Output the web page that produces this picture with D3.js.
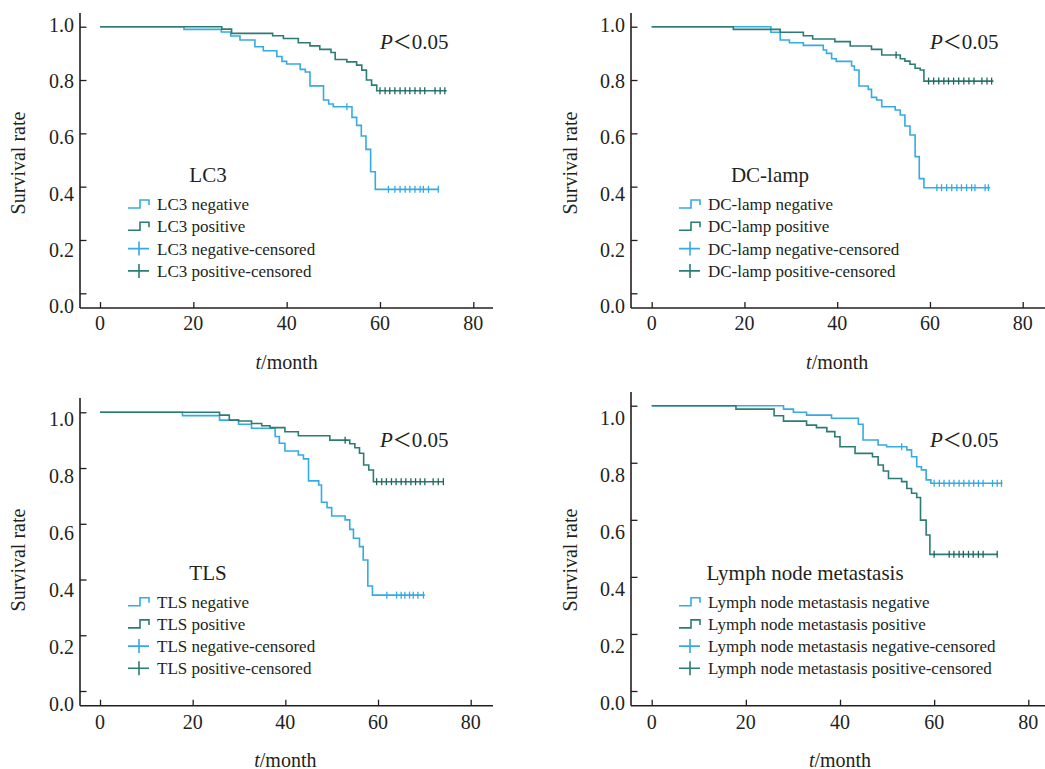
<!DOCTYPE html>
<html>
<head>
<meta charset="utf-8">
<script src="https://cdn.jsdelivr.net/npm/d3@7/dist/d3.min.js"></script>
<style>
  body { margin: 0; background: #fff; }
  svg text { font-family: "Liberation Serif", "DejaVu Serif", serif; fill: #231f20; }
</style>
</head>
<body>
<div id="chart"></div>
<script>
// Tick labels
var yTickValues = [0, 0.2, 0.4, 0.6, 0.8, 1.0];
var yTickLabels = ["0.0", "0.2", "0.4", "0.6", "0.8", "1.0"];
var xTickValues = [0, 20, 40, 60, 80];
var xTickLabels = ["0", "20", "40", "60", "80"];

// Group names of each panel
var panelNames = ["LC3", "DC-lamp", "TLS", "Lymph node metastasis"];

// Kaplan-Meier steps: [month, survival after the drop]
var lc3NegSteps = [[18, 0.99], [26, 0.98], [28, 0.965], [30, 0.95], [33.2, 0.925], [35, 0.91], [37.9, 0.888], [39, 0.87], [40, 0.86], [42.9, 0.84], [44, 0.83], [45, 0.778], [47.9, 0.725], [49, 0.71], [50, 0.70], [54, 0.66], [55, 0.63], [56, 0.59], [57, 0.54], [58, 0.456], [59, 0.39]];
var lc3NegCensor = [52.9, 61.8, 63.2, 64.3, 65.4, 66.4, 67.5, 68.6, 69.3, 70.4, 72.5];
var lc3NegEnd = 72.5;
var lc3PosSteps = [[26.1, 0.991], [28.2, 0.975], [37, 0.966], [39.3, 0.956], [42.5, 0.94], [45, 0.928], [47.1, 0.915], [49.5, 0.903], [50.4, 0.877], [52.9, 0.868], [55, 0.856], [56.1, 0.837], [57.1, 0.80], [58.2, 0.781], [59.3, 0.76]];
var lc3PosCensor = [60, 61.1, 62.1, 63.2, 64.3, 65.4, 66.4, 67.5, 68.6, 69.6, 71.8, 72.9, 73.9];
var lc3PosEnd = 74.3;

var dcNegSteps = [[25.7, 0.979], [27.7, 0.95], [29.7, 0.94], [32.7, 0.93], [37, 0.9125], [37.7, 0.90], [38.8, 0.88], [39.8, 0.87], [43.1, 0.8525], [43.7, 0.8375], [44.7, 0.7775], [46.7, 0.765], [47.4, 0.735], [48.5, 0.725], [49.6, 0.70], [52.5, 0.6875], [53.6, 0.669], [54.6, 0.6275], [55.7, 0.594], [56.8, 0.5125], [57.7, 0.43], [58.7, 0.396]];
var dcNegCensor = [61.5, 62.5, 63.6, 64.7, 65.8, 66.8, 67.9, 69, 69.7, 71.9, 72.6];
var dcNegEnd = 73;
var dcPosSteps = [[17.6, 0.99], [27.7, 0.979], [32.7, 0.966], [34.7, 0.954], [39.5, 0.944], [42.8, 0.9275], [47.4, 0.915], [49.6, 0.894], [53.6, 0.88], [54.6, 0.871], [55.7, 0.859], [56.8, 0.844], [57.9, 0.8375], [58.7, 0.796]];
var dcPosCensor = [52.7, 59.7, 60.8, 61.9, 63, 64, 65.1, 66.2, 67.3, 68.4, 69.5, 71.2, 72.3, 73.3];
var dcPosEnd = 73.7;

var tlsNegSteps = [[17.8, 0.988], [25.8, 0.972], [29.9, 0.957], [32.7, 0.943], [37.8, 0.913], [38.7, 0.889], [39.9, 0.861], [42.8, 0.847], [43.9, 0.833], [45, 0.754], [47.2, 0.739], [47.8, 0.677], [49, 0.658], [50, 0.628], [52.9, 0.614], [53.9, 0.58], [54.7, 0.548], [56, 0.518], [56.8, 0.47], [57.8, 0.377], [58.8, 0.344]];
var tlsNegCensor = [61.9, 64, 65, 65.8, 66.8, 67.6, 68.6, 69.8];
var tlsNegEnd = 70.1;
var tlsPosSteps = [[25.8, 0.99], [27.9, 0.972], [29.9, 0.969], [32.7, 0.96], [34.9, 0.952], [36.7, 0.945], [39.9, 0.93], [42.8, 0.916], [49.6, 0.90], [53.9, 0.887], [55, 0.873], [56, 0.853], [56.9, 0.811], [58, 0.793], [59, 0.751]];
var tlsPosCensor = [52.9, 59.7, 60.8, 61.8, 62.9, 63.9, 65, 66, 67.1, 68.1, 69.1, 70.1, 71.9, 73, 74.1];
var tlsPosEnd = 74.1;

var lnmNegSteps = [[28, 0.988], [30.1, 0.977], [32.9, 0.967], [38.2, 0.956], [43.9, 0.935], [44.9, 0.88], [48.1, 0.862], [49.9, 0.856], [54.2, 0.845], [55.2, 0.821], [56.3, 0.786], [57.3, 0.775], [58.3, 0.74], [59.3, 0.728]];
var lnmNegCensor = [53.1, 60, 61.1, 62.1, 63.2, 64.2, 65.3, 66.3, 67.4, 68.4, 69.4, 70.4, 72.4, 73.4, 74.3];
var lnmNegEnd = 74.5;
var lnmPosSteps = [[17.9, 0.988], [26, 0.965], [28, 0.946], [32.9, 0.932], [35, 0.923], [37.2, 0.909], [38.9, 0.891], [40, 0.856], [43.2, 0.833], [46.9, 0.821], [48.1, 0.792], [49.2, 0.771], [50.3, 0.745], [53.1, 0.734], [54.2, 0.71], [55.2, 0.693], [56.3, 0.678], [57.1, 0.599], [58.3, 0.547], [59.1, 0.479]];
var lnmPosCensor = [60, 63.2, 64.2, 65.3, 66.2, 67.3, 68.3, 69.4, 70.4, 73.4];
var lnmPosEnd = 73.4;

var blue = "#36aae2";
var teal = "#2b7d74";
var tealMark = "#1f6660";
var serif = "'Liberation Serif', 'DejaVu Serif', serif";

// where each panel sits on the page
var layouts = [
  {left: 80, axisY: 308, x0: 100, x80: 473.3, yTop: 26.7, yBot: 293.3, axisTop: 13, axisRight: 493, lab1: 25, lab0: 306, tickLabY: 323, titleY: 362, yTitleX: 18, yTitleY: 163, pX: 380, pY: 42, legX: 128, legTitleX: 208, legTitleY: 175, legRow0: 204, legStep: 22.3},
  {left: 631, axisY: 308, x0: 651.7, x80: 1022.7, yTop: 26.7, yBot: 293.3, axisTop: 13, axisRight: 1045, lab1: 25, lab0: 306, tickLabY: 323, titleY: 362, yTitleX: 570, yTitleY: 163, pX: 930, pY: 42, legX: 679, legTitleX: 770, legTitleY: 175, legRow0: 204, legStep: 22.3},
  {left: 80, axisY: 705.7, x0: 100, x80: 470.7, yTop: 412.3, yBot: 691, axisTop: 398, axisRight: 493, lab1: 419, lab0: 704, tickLabY: 721.7, titleY: 759.5, yTitleX: 18, yTitleY: 560, pX: 380, pY: 440, legX: 128, legTitleX: 208, legTitleY: 573, legRow0: 601.7, legStep: 22.2},
  {left: 631, axisY: 705.7, x0: 651.7, x80: 1028.3, yTop: 405.7, yBot: 691, axisTop: 392, axisRight: 1045, lab1: 418, lab0: 703, tickLabY: 721.7, titleY: 759.5, yTitleX: 570, yTitleY: 560, pX: 930, pY: 440, legX: 679, legTitleX: 805, legTitleY: 573, legRow0: 601.7, legStep: 22.2}
];

// curves for each panel, negative first like the legend
var panelCurves = [
  [{steps: lc3NegSteps, censor: lc3NegCensor, end: lc3NegEnd, color: blue, mark: blue},
   {steps: lc3PosSteps, censor: lc3PosCensor, end: lc3PosEnd, color: teal, mark: tealMark}],
  [{steps: dcNegSteps, censor: dcNegCensor, end: dcNegEnd, color: blue, mark: blue},
   {steps: dcPosSteps, censor: dcPosCensor, end: dcPosEnd, color: teal, mark: tealMark}],
  [{steps: tlsNegSteps, censor: tlsNegCensor, end: tlsNegEnd, color: blue, mark: blue},
   {steps: tlsPosSteps, censor: tlsPosCensor, end: tlsPosEnd, color: teal, mark: tealMark}],
  [{steps: lnmNegSteps, censor: lnmNegCensor, end: lnmNegEnd, color: blue, mark: blue},
   {steps: lnmPosSteps, censor: lnmPosCensor, end: lnmPosEnd, color: teal, mark: tealMark}]
];

var svg = d3.select("#chart")
  .append("svg")
  .attr("width", 1045)
  .attr("height", 769)
  .style("font-family", serif);

// survival value at time t (step function)
function survivalAt(steps, t) {
  var s = 1;
  steps.forEach(function(d) { if (d[0] <= t) s = d[1]; });
  return s;
}

// every label goes through here so the serif font sticks
function addText(sel, size) {
  return sel.append("text")
    .attr("font-family", serif)
    .style("font-family", serif)
    .style("font-size", size + "px");
}

function drawPanel(name, lay, curves) {
  var g = svg.append("g");

  var x = d3.scaleLinear().domain([0, 80]).range([lay.x0, lay.x80]);
  var y = d3.scaleLinear().domain([0, 1]).range([lay.yBot, lay.yTop]);
  // labels in the original sit a touch off the ticks
  var yLab = d3.scaleLinear().domain([0, 1]).range([lay.lab0, lay.lab1]);

  // ticks pointing inward
  g.append("g")
    .attr("transform", `translate(${lay.left},0)`)
    .call(d3.axisLeft(y).tickValues(yTickValues).tickSizeInner(-6.5).tickSizeOuter(0).tickFormat(""));
  g.append("g")
    .attr("transform", `translate(0,${lay.axisY})`)
    .call(d3.axisBottom(x).tickValues(xTickValues).tickSizeInner(-6).tickSizeOuter(0).tickFormat(""));
  g.selectAll(".domain").remove();
  g.selectAll(".tick line").attr("stroke", "#231f20").attr("stroke-width", 1.3);

  // axis lines
  g.append("line")
    .attr("x1", lay.left).attr("x2", lay.left)
    .attr("y1", lay.axisTop).attr("y2", lay.axisY)
    .attr("stroke", "#231f20").attr("stroke-width", 1.6);
  g.append("line")
    .attr("x1", lay.left).attr("x2", lay.axisRight)
    .attr("y1", lay.axisY).attr("y2", lay.axisY)
    .attr("stroke", "#231f20").attr("stroke-width", 1.6);

  // tick labels
  yTickValues.forEach(function(v, i) {
    addText(g, 20)
      .attr("x", lay.left - 6)
      .attr("y", yLab(v))
      .attr("dy", "0.35em")
      .style("text-anchor", "end")
      .text(yTickLabels[i]);
  });
  xTickValues.forEach(function(v, i) {
    addText(g, 20)
      .attr("x", x(v))
      .attr("y", lay.tickLabY)
      .attr("dy", "0.35em")
      .style("text-anchor", "middle")
      .text(xTickLabels[i]);
  });

  // axis titles
  var xt = addText(g, 20)
    .attr("x", x(40))
    .attr("y", lay.titleY)
    .attr("dy", "0.35em")
    .style("text-anchor", "middle");
  xt.append("tspan").style("font-style", "italic").text("t");
  xt.append("tspan").text("/month");

  addText(g, 20)
    .attr("transform", `translate(${lay.yTitleX},${lay.yTitleY}) rotate(-90)`)
    .attr("dy", "0.35em")
    .style("text-anchor", "middle")
    .text("Survival rate");

  // P value
  var pt = addText(g, 21)
    .attr("x", lay.pX)
    .attr("y", lay.pY)
    .attr("dy", "0.35em");
  pt.append("tspan").style("font-style", "italic").text("P");
  pt.append("tspan").style("font-family", "'Noto Sans CJK SC', 'Liberation Serif', serif").style("font-size", "19px").text("＜");
  pt.append("tspan").text("0.05");

  // the step curves
  var line = d3.line()
    .x(d => x(d[0]))
    .y(d => y(d[1]))
    .curve(d3.curveStepAfter);

  curves.forEach(function(c) {
    var pts = [[0, 1]].concat(c.steps);
    pts.push([c.end, c.steps[c.steps.length - 1][1]]);
    g.append("path")
      .attr("d", line(pts))
      .attr("fill", "none")
      .attr("stroke", c.color)
      .attr("stroke-width", 1.6);

    g.selectAll(null)
      .data(c.censor)
      .enter()
      .append("line")
      .attr("x1", d => x(d)).attr("x2", d => x(d))
      .attr("y1", d => y(survivalAt(c.steps, d)) - 3.5)
      .attr("y2", d => y(survivalAt(c.steps, d)) + 3.5)
      .attr("stroke", c.mark)
      .attr("stroke-width", 1.3);
  });

  // legend
  addText(g, 21)
    .attr("x", lay.legTitleX)
    .attr("y", lay.legTitleY)
    .attr("dy", "0.35em")
    .style("text-anchor", "middle")
    .text(name);

  var items = [
    {label: name + " negative", color: blue, type: "step"},
    {label: name + " positive", color: teal, type: "step"},
    {label: name + " negative-censored", color: blue, type: "plus"},
    {label: name + " positive-censored", color: teal, type: "plus"}
  ];

  items.forEach(function(it, i) {
    var ry = lay.legRow0 + i * lay.legStep;
    if (it.type == "step") {
      g.append("path")
        .attr("d", `M${lay.legX},${ry + 4}H${lay.legX + 12}V${ry - 4}H${lay.legX + 21}V${ry + 1}`)
        .attr("fill", "none")
        .attr("stroke", it.color)
        .attr("stroke-width", 1.6);
    } else {
      g.append("path")
        .attr("d", `M${lay.legX},${ry}H${lay.legX + 21}M${lay.legX + 11},${ry - 7}V${ry + 7}`)
        .attr("fill", "none")
        .attr("stroke", it.color)
        .attr("stroke-width", 1.6);
    }
    addText(g, 17)
      .attr("x", lay.legX + 29)
      .attr("y", ry)
      .attr("dy", "0.35em")
      .text(it.label);
  });
}

panelNames.forEach(function(n, i) {
  drawPanel(n, layouts[i], panelCurves[i]);
});
</script>
</body>
</html>
